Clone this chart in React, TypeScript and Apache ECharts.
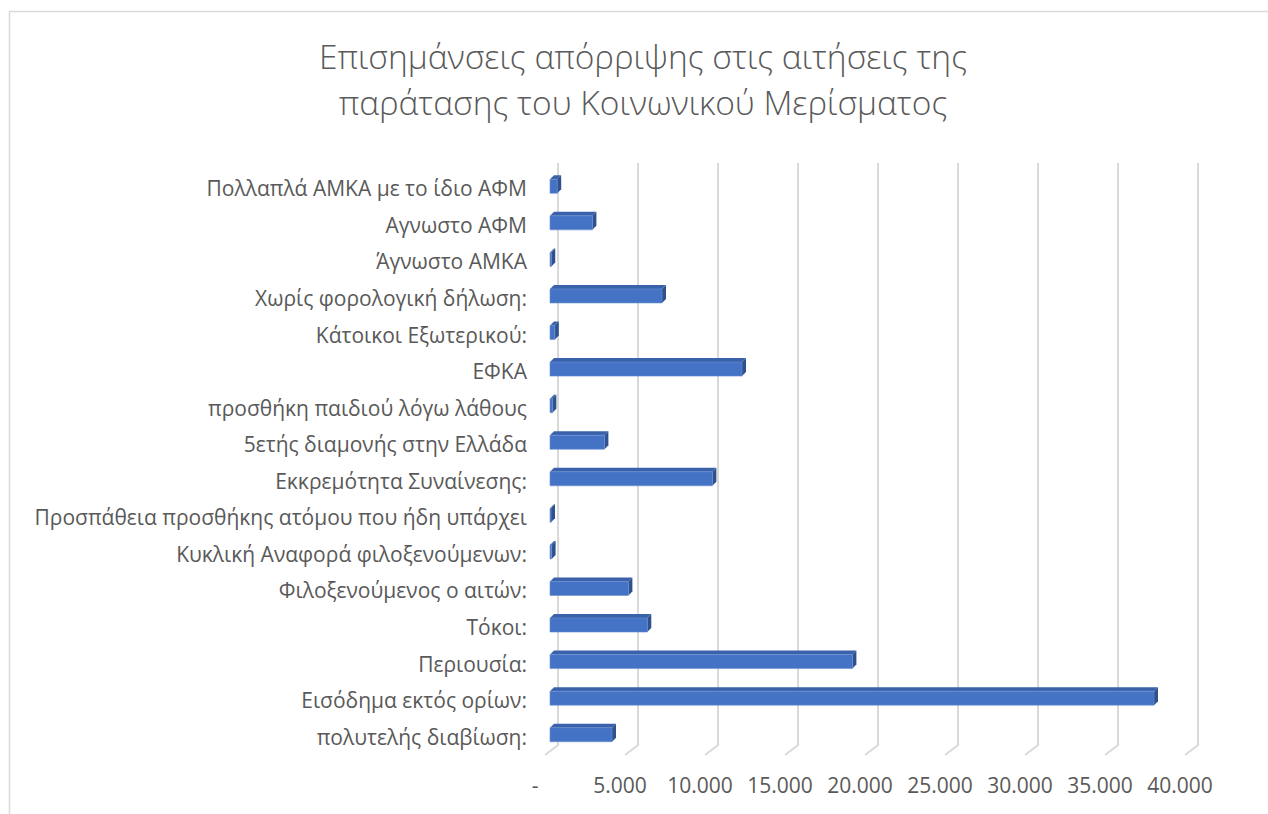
import React, { useEffect, useRef } from "react";
import * as echarts from "echarts";

// Categories listed bottom -> top (ECharts category axis starts at the bottom)
const categories: string[] = [
  "πολυτελής διαβίωση:",
  "Εισόδημα εκτός ορίων:",
  "Περιουσία:",
  "Τόκοι:",
  "Φιλοξενούμενος ο αιτών:",
  "Κυκλική Αναφορά φιλοξενούμενων:",
  "Προσπάθεια προσθήκης ατόμου που ήδη υπάρχει",
  "Εκκρεμότητα Συναίνεσης:",
  "5ετής διαμονής στην Ελλάδα",
  "προσθήκη παιδιού λόγω λάθους",
  "ΕΦΚΑ",
  "Κάτοικοι Εξωτερικού:",
  "Χωρίς φορολογική δήλωση:",
  "Άγνωστο ΑΜΚΑ",
  "Αγνωστο ΑΦΜ",
  "Πολλαπλά ΑΜΚΑ με το ίδιο ΑΦΜ",
];

const values: number[] = [
  3875, 37750, 18900, 6080, 4900, 100, 50, 10150, 3400, 150, 12000, 300, 7000,
  80, 2650, 450,
];

const tickValues: number[] = [0, 5000, 10000, 15000, 20000, 25000, 30000, 35000, 40000];

const titleLines: string[] = [
  "Επισημάνσεις απόρριψης στις αιτήσεις της",
  "παράτασης του Κοινωνικού Μερίσματος",
];

const FONT = "'Open Sans', 'Noto Sans', sans-serif";

function fmt(v: number): string {
  return String(v).replace(/\B(?=(\d{3})+(?!\d))/g, ".");
}

export default function App() {
  const ref = useRef<HTMLDivElement>(null);

  useEffect(() => {
    if (!ref.current) return;
    const chart = echarts.init(ref.current, undefined, { renderer: "svg" });

    const FRONT = "#4472C4";
    const TOP = "#3A62AA";
    const SIDE = "#2F528F";
    const DEPTH = 4;
    const H = 14;

    const option: any = {
      animation: false,
      backgroundColor: "#ffffff",
      graphic: [
        {
          type: "rect",
          z: -10,
          shape: { x: 9.5, y: 11.5, width: 1400, height: 1000 },
          style: { fill: "none", stroke: "#d9d9d9", lineWidth: 1.5 },
        },
        {
          type: "text",
          x: 643,
          y: 33,
          style: {
            text: titleLines.join("\n"),
            textAlign: "center",
            textVerticalAlign: "top",
            fontFamily: FONT,
            fontWeight: 300,
            fontSize: 33.5,
            lineHeight: 46,
            fill: "#595959",
          },
        },
      ],
      grid: { left: 550, top: 170, width: 640, height: 585 },
      xAxis: {
        type: "value",
        min: 0,
        max: 40000,
        interval: 5000,
        axisLine: { show: false },
        axisTick: { show: false },
        splitLine: { show: false },
        axisLabel: {
          margin: 19,
          color: "#595959",
          fontFamily: FONT,
          fontSize: 21,
          formatter: (v: number) => (v === 0 ? "{z|-}" : "{n|" + fmt(v) + "}"),
          rich: {
            n: { fontFamily: FONT, fontSize: 21, color: "#595959", padding: [0, 20, 0, 0] },
            z: { fontFamily: FONT, fontSize: 21, color: "#595959", padding: [0, 30, 0, 0] },
          },
        },
      },
      yAxis: {
        type: "category",
        data: categories,
        axisLine: { show: false },
        axisTick: { show: false },
        splitLine: { show: false },
        axisLabel: {
          margin: 23,
          color: "#595959",
          fontFamily: FONT,
          fontSize: 21,
        },
      },
      series: [
        {
          type: "custom",
          name: "grid",
          z: 1,
          silent: true,
          data: tickValues.map((v) => [v, 0]),
          encode: { x: 0, y: 1 },
          renderItem: (params: any, api: any) => {
            const cs = params.coordSys;
            const p = api.coord([api.value(0), 0]);
            const xb = p[0] + 8;
            const xf = p[0] - 5;
            const yTop = cs.y - 7;
            const yBack = cs.y + cs.height - 10;
            const yFront = cs.y + cs.height;
            return {
              type: "polyline",
              shape: { points: [[xb, yTop], [xb, yBack], [xf, yFront]] },
              style: { stroke: "#d9d9d9", lineWidth: 2, fill: "none" },
            };
          },
        },
        {
          type: "custom",
          name: "Επισημάνσεις",
          z: 5,
          data: values.map((v, i) => [v, i]),
          encode: { x: 0, y: 1 },
          renderItem: (params: any, api: any) => {
            const idx = api.value(1);
            const s = api.coord([0, idx]);
            const e = api.coord([api.value(0), idx]);
            const x0 = s[0];
            const x1 = Math.max(e[0], x0 + 1);
            const y0 = s[1] - 2 - H / 2;
            const d = DEPTH;
            return {
              type: "group",
              children: [
                {
                  type: "polygon",
                  shape: { points: [[x0, y0], [x0 + d, y0 - d], [x1 + d, y0 - d], [x1, y0]] },
                  style: { fill: TOP },
                },
                {
                  type: "polygon",
                  shape: { points: [[x1, y0], [x1 + d, y0 - d], [x1 + d, y0 + H - d], [x1, y0 + H]] },
                  style: { fill: SIDE },
                },
                {
                  type: "rect",
                  shape: { x: x0, y: y0, width: x1 - x0, height: H },
                  style: { fill: FRONT, stroke: "#6a8fd3", lineWidth: 0.6 },
                },
              ],
            };
          },
        },
      ],
    };

    chart.setOption(option);
    return () => chart.dispose();
  }, []);

  return (
    <div
      ref={ref}
      style={{ position: "fixed", left: 0, top: 0, width: 1268, height: 814, background: "#fff" }}
    />
  );
}
